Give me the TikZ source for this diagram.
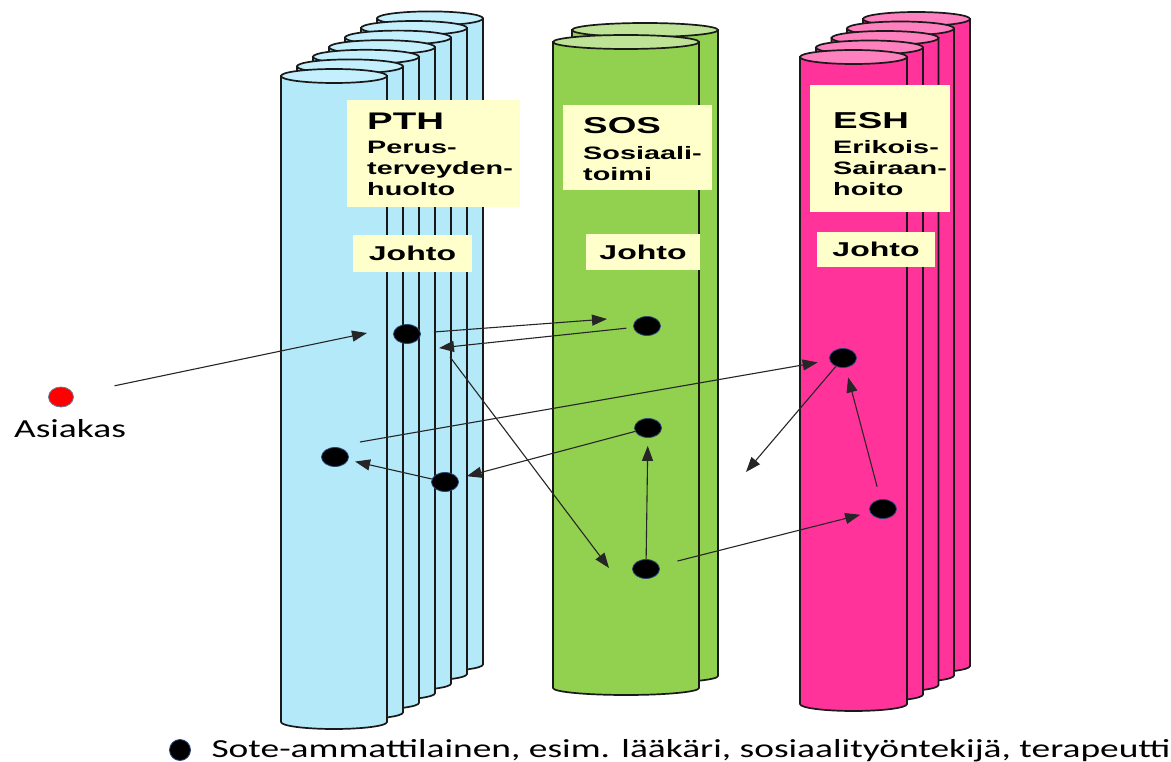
\documentclass[tikz,border=0pt]{standalone}
\usepackage{fontspec}
\setmainfont{Liberation Sans}
\newfontfamily\boxfont[FakeStretch=1.6]{Liberation Sans}
\newfontfamily\notefont[FakeStretch=1.44]{Carlito}
\usetikzlibrary{arrows.meta, shapes.geometric}

\definecolor{pthblue}{RGB}{180,233,250}
\definecolor{pthtop}{RGB}{196,239,252}
\definecolor{sosgreen}{RGB}{146,208,80}
\definecolor{sostop}{RGB}{190,226,150}
\definecolor{eshpink}{RGB}{255,51,153}
\definecolor{eshtop}{RGB}{255,128,190}
\definecolor{labelyellow}{RGB}{255,255,204}
\definecolor{dotrim}{RGB}{40,70,120}

% one tube: left x, top y, x radius, height, body colour, top colour
\newcommand{\tube}[6]{%
  \filldraw[tubeline, fill=#5] (#1,#2) -- ++(0,#4)
    arc[start angle=180, end angle=0, x radius=#3, y radius=7] -- ++(0,-#4) -- cycle;
  \filldraw[tubeline, fill=#6] (#1+#3,#2) ellipse[x radius=#3, y radius=7];
}

\begin{document}
\begin{tikzpicture}[x=1pt, y=-1pt,
    tubeline/.style={draw=black!90, line width=1.7pt},
    labelbox/.style={fill=labelyellow, inner sep=0pt},
    labeltext/.style={anchor=north west, inner sep=0pt, align=left,
      font=\boxfont\bfseries\fontsize{18}{21}\selectfont},
    johtobox/.style={fill=labelyellow, inner sep=0pt,
      font=\boxfont\bfseries\fontsize{20}{22}\selectfont},
    pro/.style={ellipse, fill=black, draw=dotrim, line width=0.8pt,
      minimum width=27pt, minimum height=19pt, inner sep=0pt},
    flow/.style={-{Triangle[length=15pt, width=11pt]}, draw=black!85, line width=1.1pt}]
        \useasboundingbox (0,0) rectangle (1171,762);

        % PTH
        \tube{377}{18.4}{53}{646}{pthblue}{pthtop}
        \tube{361}{28}{53}{646}{pthblue}{pthtop}
        \tube{345}{37.6}{53}{646}{pthblue}{pthtop}
        \tube{329}{47.2}{53}{646}{pthblue}{pthtop}
        \tube{313}{56.8}{53}{646}{pthblue}{pthtop}
        \tube{297}{66.4}{53}{646}{pthblue}{pthtop}
        \tube{281}{76}{53}{646}{pthblue}{pthtop}

        % SOS
        \tube{572}{30}{73}{646}{sosgreen}{sostop}
        \tube{553}{42}{73}{646}{sosgreen}{sostop}

        % ESH
        \tube{863}{19}{53.5}{647}{eshpink}{eshtop}
        \tube{847}{28.5}{53.5}{647}{eshpink}{eshtop}
        \tube{831.5}{38}{53.5}{647}{eshpink}{eshtop}
        \tube{816}{47.5}{53.5}{647}{eshpink}{eshtop}
        \tube{800}{57}{53.5}{647}{eshpink}{eshtop}

        % labels
        \node[labelbox, minimum width=173pt, minimum height=107pt] (pth) at (433.5,153.5) {};
        \node[labeltext] (pthtext) at (367,113)
          {{\fontsize{24}{24}\selectfont PTH}\\[3pt]Perus-\\terveyden-\\huolto};
        \node[labelbox, minimum width=149pt, minimum height=85pt] (sos) at (637.5,147.5) {};
        \node[labeltext] (sostext) at (583,117)
          {{\fontsize{23}{23}\selectfont SOS}\\[5pt]Sosiaali-\\toimi};
        \node[labelbox, minimum width=140pt, minimum height=127pt] (esh) at (880,148.5) {};
        \node[labeltext] (eshtext) at (833,112)
          {{\fontsize{23}{23}\selectfont ESH}\\[4pt]Erikois-\\Sairaan-\\hoito};

        \node[johtobox, minimum width=119pt, minimum height=37pt] (pthjohto) at (412.5,253.5) {Johto};
        \node[johtobox, minimum width=114pt, minimum height=36pt] (sosjohto) at (643,252) {Johto};
        \node[johtobox, minimum width=118pt, minimum height=35pt] (eshjohto) at (876,249.5) {Johto};

        % client
        \node[ellipse, fill=red, draw=dotrim!70, line width=0.8pt, minimum width=25pt,
          minimum height=20pt, inner sep=0pt] (asiakas) at (61,397) {};
        \node[anchor=base, font=\notefont\fontsize{26}{30}\selectfont] (asiakaslabel) at (70,437) {Asiakas};

        % professionals
        \node[pro] (d1) at (407,334) {};
        \node[pro] (d2) at (335,457) {};
        \node[pro] (d3) at (445,482) {};
        \node[pro] (d4) at (647,326) {};
        \node[pro] (d5) at (648,428) {};
        \node[pro] (d6) at (646,569) {};
        \node[pro] (d7) at (843,358) {};
        \node[pro] (d8) at (883,509) {};

        \coordinate (a1tip) at (367,333);
        \coordinate (a2tip) at (607,319);
        \coordinate (a3tip) at (439,348);
        \coordinate (a4start) at (450,357);
        \coordinate (a4tip) at (609,568);
        \coordinate (a5start) at (360,442);
        \coordinate (a11tip) at (746,472);

        \draw[flow, shorten <=42pt] (asiakas) -- (a1tip);
        \draw[flow, shorten <=13pt] (d1) -- (a2tip);
        \draw[flow, shorten <=7pt] (d4) -- (a3tip);
        \draw[flow] (a4start) -- (a4tip);
        \draw[flow, shorten >=12pt] (a5start) -- (d7);
        \draw[flow, shorten >=9pt] (d5) -- (d3);
        \draw[flow, shorten >=7pt] (d3) -- (d2);
        \draw[flow, shorten >=8pt] (d6) -- (d5);
        \draw[flow, shorten <=19pt, shorten >=10pt] (d6) -- (d8);
        \draw[flow, shorten <=13pt, shorten >=10pt] (d8) -- (d7);
        \draw[flow] (d7) -- (a11tip);

        % legend
        \node[pro, minimum width=21pt, minimum height=21pt] (legdot) at (180,750) {};
        \node[anchor=base west, font=\notefont\fontsize{26}{30}\selectfont] (legend) at (208,757)
          {Sote-ammattilainen, esim. lääkäri, sosiaalityöntekijä, terapeutti};
\end{tikzpicture}
\end{document}
